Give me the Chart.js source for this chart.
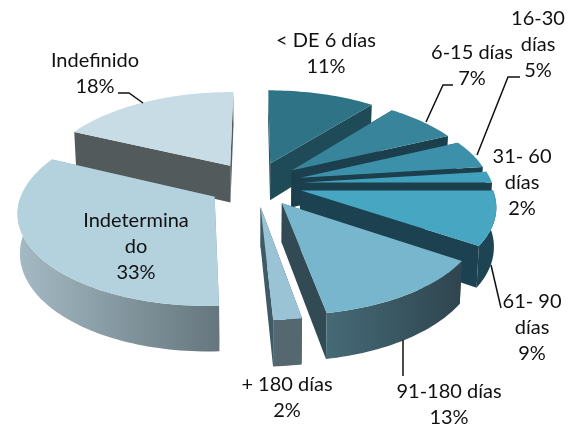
<!DOCTYPE html>
<html>
<head>
<meta charset="utf-8">
<script src="https://cdn.jsdelivr.net/npm/chart.js@4"></script>
<style>
  html, body { margin: 0; padding: 0; background: #fff; }
  canvas { display: block; }
</style>
</head>
<body>
<canvas id="chartDias" width="576" height="427"></canvas>
<script>
// datos
const categorias = ['< DE 6 días', '6-15 días', '16-30 días', '31- 60 días', '61- 90 días', '91-180 días', '+ 180 días', 'Indeterminado', 'Indefinido'];
const valores = [10.7, 7.3, 5, 2, 9.4, 12.8, 2, 32.8, 18];

// colores
const colorTapa = ['#2f7386', '#38849b', '#3d90a9', '#41a0bb', '#47a7c2', '#78b6ce', '#9ac4d6', '#b4d1de', '#c8dce6'];
const colorLado = ['#1f4a58', '#1b3f4c', '#1b3f4c', '#1b3f4c', '#1c4150', '#324a54', '#3e5a66', '#7d929b', '#525a5c'];
const colorFrenteIzq = ['#1f4a58', '#1b3f4c', '#1b3f4c', '#1b3f4c', '#1c4452', '#456a76', '#55676f', '#a4bac4', '#525a5c'];
const colorFrenteDer = ['#1f4a58', '#1b3f4c', '#1b3f4c', '#1b3f4c', '#1c4452', '#2f454f', '#55676f', '#65767d', '#525a5c'];

// etiquetas: lineas de texto, centro x y linea base de cada renglon
const textos = [
    ['< DE 6 días', '11%'], ['6-15 días', '7%'], ['16-30', 'días', '5%'],
    ['31- 60', 'días', '2%'], ['61- 90', 'días', '9%'], ['91-180 días', '13%'],
    ['+ 180 días', '2%'], ['Indetermina', 'do', '33%'], ['Indefinido', '18%']
];
const textoX = [326, 472, 538, 522, 532, 449, 287, 136, 95];
const textoY = [47, 59, 25, 163, 308, 398, 391, 227, 67];
const guias = [
    [[453, 85], [443, 85], [426, 122]],
    [[520, 77], [508, 77], [477, 155]],
    [[491, 265], [501, 308]],
    [[403, 340], [403, 376]],
    [[118, 93], [129, 93], [143, 103]]
];

// perspectiva del pastel
const ESCALA_X = 190, ESCALA_Y = 89.3, FUGA = 0.145, ALTO = 38;

function punto(el, ang, r, abajo) {
    const mid = (el.startAngle + el.endAngle) / 2;
    const off = el.options.offset;
    const u = (off * Math.cos(mid) + r * Math.cos(ang)) / el.outerRadius;
    const v = (off * Math.sin(mid) + r * Math.sin(ang)) / el.outerRadius;
    const w = 1 - FUGA * v;
    return {
        x: el.x + ESCALA_X * u / w * (abajo ? 0.99 : 1),
        y: el.y + ESCALA_Y * v / w + (abajo ? ALTO / w : 0)
    };
}

function poligono(ctx, pts) {
    ctx.beginPath();
    pts.forEach((p, i) => i ? ctx.lineTo(p.x, p.y) : ctx.moveTo(p.x, p.y));
    ctx.closePath();
    ctx.fill();
}

function muestras(a, b) {
    const n = Math.max(2, Math.ceil((b - a) * 40));
    const out = [];
    for (let i = 0; i <= n; i++) out.push(a + (b - a) * i / n);
    return out;
}

const pastel3d = {
    id: 'pastel3d',
    beforeDatasetsDraw(chart) {
        const ctx = chart.ctx;
        const arcos = chart.getDatasetMeta(0).data.map((el, i) => ({ el, i }));
        // de atras hacia adelante
        arcos.sort((a, b) => Math.sin((a.el.startAngle + a.el.endAngle) / 2) - Math.sin((b.el.startAngle + b.el.endAngle) / 2));
        arcos.forEach(({ el, i }) => {
            const R = el.outerRadius;
            // paredes radiales
            ctx.fillStyle = colorLado[i];
            [el.startAngle, el.endAngle].forEach(a => {
                poligono(ctx, [punto(el, a, 0), punto(el, a, R), punto(el, a, R, true), punto(el, a, 0, true)]);
            });
            // pared exterior, solo la parte que mira al frente
            const ini = Math.max(el.startAngle, 0), fin = Math.min(el.endAngle, Math.PI);
            if (fin > ini) {
                const angs = muestras(ini, fin);
                const arriba = angs.map(a => punto(el, a, R));
                const abajo = angs.map(a => punto(el, a, R, true)).reverse();
                const xs = arriba.map(p => p.x);
                const grad = ctx.createLinearGradient(Math.min(...xs), 0, Math.max(...xs), 0);
                grad.addColorStop(0, colorFrenteIzq[i]);
                grad.addColorStop(1, colorFrenteDer[i]);
                ctx.fillStyle = grad;
                poligono(ctx, arriba.concat(abajo));
            }
            // tapa
            ctx.fillStyle = el.options.backgroundColor;
            poligono(ctx, [punto(el, 0, 0)].concat(muestras(el.startAngle, el.endAngle).map(a => punto(el, a, R))));
        });
        return false;
    },
    afterDraw(chart) {
        const ctx = chart.ctx;
        ctx.save();
        ctx.strokeStyle = '#111';
        ctx.lineWidth = 1.5;
        guias.forEach(g => {
            ctx.beginPath();
            g.forEach((p, i) => i ? ctx.lineTo(p[0], p[1]) : ctx.moveTo(p[0], p[1]));
            ctx.stroke();
        });
        ctx.fillStyle = '#111';
        ctx.font = '20px Lato';
        ctx.textAlign = 'center';
        textos.forEach((lineas, i) => {
            lineas.forEach((t, j) => ctx.fillText(t, textoX[i], textoY[i] + j * 26));
        });
        ctx.restore();
    }
};

new Chart(document.getElementById('chartDias'), {
    type: 'pie',
    data: {
        labels: categorias,
        datasets: [{
            data: valores,
            backgroundColor: colorTapa,
            borderWidth: 0,
            offset: 41
        }]
    },
    options: {
        responsive: false,
        animation: false,
        layout: { padding: { right: 66, bottom: 59 } },
        plugins: { legend: { display: false }, tooltip: { enabled: false } }
    },
    plugins: [pastel3d]
});
</script>
</body>
</html>
